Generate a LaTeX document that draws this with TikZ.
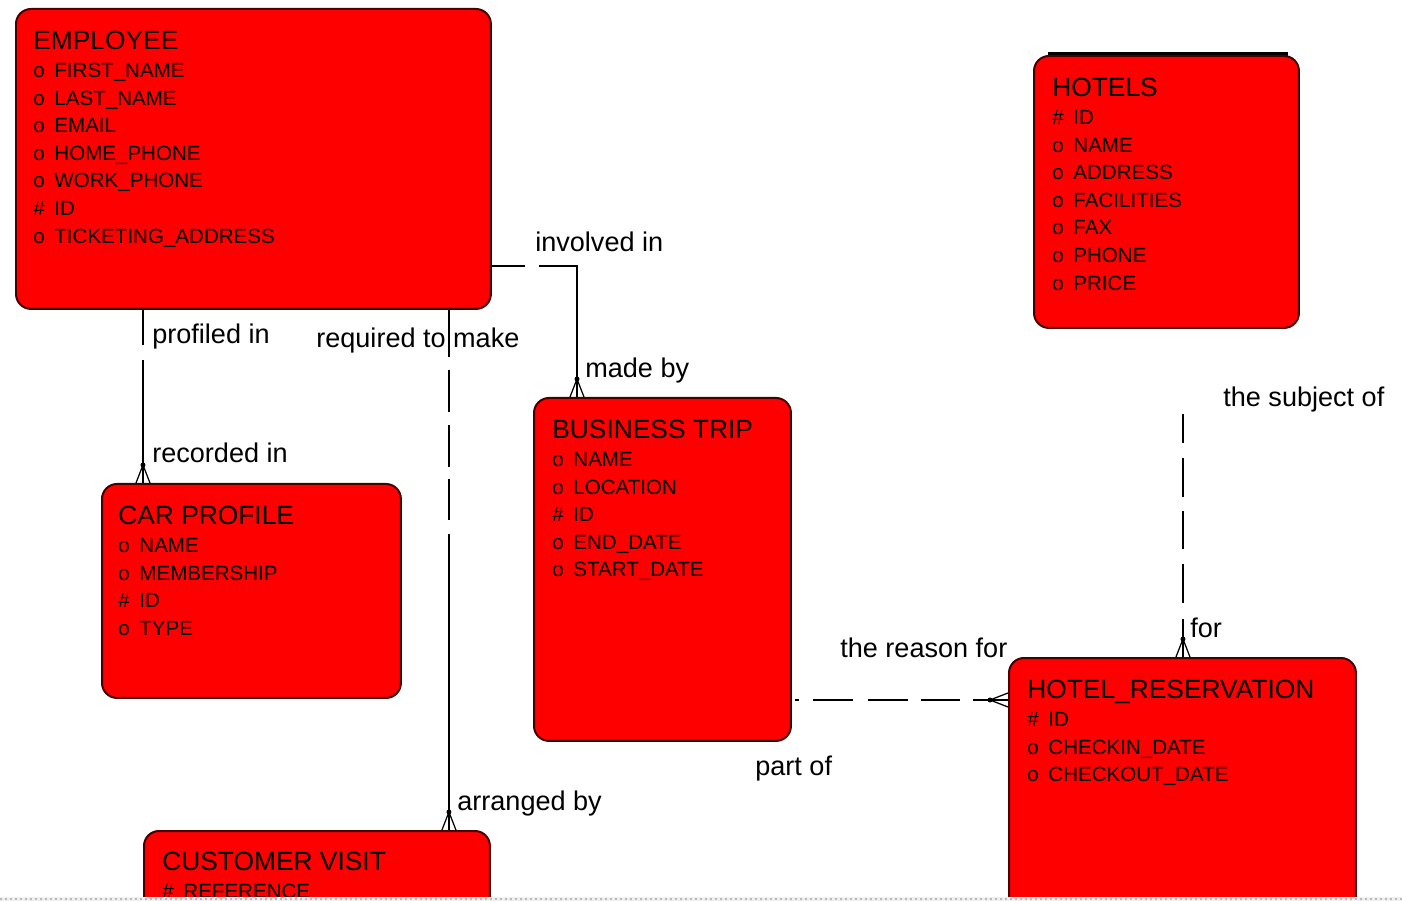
\documentclass[tikz,border=0pt]{standalone}
\usepackage{fontspec}
\setmainfont{Liberation Sans}
\definecolor{boxred}{RGB}{255, 0, 0}
\definecolor{boxedge}{RGB}{70, 0, 0}
\usetikzlibrary{calc}
\usetikzlibrary{positioning}
\newcommand{\attr}[2]{\makebox[12pt][l]{#1}#2}
\newcommand{\enttitle}[1]{{\fontsize{15}{15.7}\selectfont #1}}
\tikzset{
    rel/.style={line width=0.03cm},
    entity/.style = {
      draw=boxedge,
      line width=0.04cm,
      fill=boxred,
      rounded corners=0.3cm,
      rectangle,
      anchor=north west,
      inner sep=0
    },
    attrs/.style = {
      inner sep=0,
      anchor=base west,
      font=\fontsize{11.7}{15.7}\selectfont
    },
    rolename/.style = {
      inner sep=0,
      anchor=base west,
      font=\fontsize{15.4}{18}\selectfont
    },
    crowfoot/.pic = {
      \fill (0cm,0.36cm) circle (0.05cm);
      \draw[line width=0.025cm] (0cm,0.36cm) -- (-0.14cm,0cm)
        (0cm,0.36cm) -- (0cm,0cm) (0cm,0.36cm) -- (0.14cm,0cm);
    },
}
\begin{document}
\begin{tikzpicture}[x=0.02cm, y=-0.02cm]
      \useasboundingbox (0,0) rectangle (1402,901);
      \begin{scope}
      \clip (0,0) rectangle (1402,897);

      \node [entity, minimum width=9.5cm, minimum height=6cm] (employee) at (15,8) {};
      \node [attrs] (employee-text) at ([shift={(0.36cm,-0.84cm)}]employee.north west) {%
        \begin{tabular}[t]{@{}l@{}}
          \enttitle{EMPLOYEE}\\
          \attr{o}{FIRST\_NAME}\\
          \attr{o}{LAST\_NAME}\\
          \attr{o}{EMAIL}\\
          \attr{o}{HOME\_PHONE}\\
          \attr{o}{WORK\_PHONE}\\
          \attr{\#}{ID}\\
          \attr{o}{TICKETING\_ADDRESS}
        \end{tabular}};

      \draw[line width=0.07cm] (1048,54) -- (1288,54);
      \node [entity, minimum width=5.3cm, minimum height=5.44cm] (hotels) at (1033,55) {};
      \node [attrs] (hotels-text) at ([shift={(0.38cm,-0.84cm)}]hotels.north west) {%
        \begin{tabular}[t]{@{}l@{}}
          \enttitle{HOTELS}\\
          \attr{\#}{ID}\\
          \attr{o}{NAME}\\
          \attr{o}{ADDRESS}\\
          \attr{o}{FACILITIES}\\
          \attr{o}{FAX}\\
          \attr{o}{PHONE}\\
          \attr{o}{PRICE}
        \end{tabular}};

      \node [entity, minimum width=5.98cm, minimum height=4.28cm] (carprofile) at (101,483) {};
      \node [attrs] (carprofile-text) at ([shift={(0.34cm,-0.84cm)}]carprofile.north west) {%
        \begin{tabular}[t]{@{}l@{}}
          \enttitle{CAR PROFILE}\\
          \attr{o}{NAME}\\
          \attr{o}{MEMBERSHIP}\\
          \attr{\#}{ID}\\
          \attr{o}{TYPE}
        \end{tabular}};

      \node [entity, minimum width=5.14cm, minimum height=6.86cm] (businesstrip) at (533,397) {};
      \node [attrs] (businesstrip-text) at ([shift={(0.38cm,-0.84cm)}]businesstrip.north west) {%
        \begin{tabular}[t]{@{}l@{}}
          \enttitle{BUSINESS TRIP}\\
          \attr{o}{NAME}\\
          \attr{o}{LOCATION}\\
          \attr{\#}{ID}\\
          \attr{o}{END\_DATE}\\
          \attr{o}{START\_DATE}
        \end{tabular}};

      \node [entity, minimum width=6.94cm, minimum height=6cm] (hotelres) at (1008,657) {};
      \node [attrs] (hotelres-text) at ([shift={(0.38cm,-0.84cm)}]hotelres.north west) {%
        \begin{tabular}[t]{@{}l@{}}
          \enttitle{HOTEL\_RESERVATION}\\
          \attr{\#}{ID}\\
          \attr{o}{CHECKIN\_DATE}\\
          \attr{o}{CHECKOUT\_DATE}
        \end{tabular}};

      \node [entity, minimum width=6.92cm, minimum height=3cm] (customervisit) at (143,830) {};
      \node [attrs] (customervisit-text) at ([shift={(0.38cm,-0.82cm)}]customervisit.north west) {%
        \begin{tabular}[t]{@{}l@{}}
          \enttitle{CUSTOMER VISIT}\\
          \attr{\#}{REFERENCE}
        \end{tabular}};

      % relationships
      \coordinate (car-end) at ([xshift=0.84cm]carprofile.north west);
      \draw[rel, dash pattern=on 0.7cm off 0.3cm on 10cm off 0cm] (employee.south -| car-end) -- (car-end);
      \pic at (car-end) {crowfoot};

      \coordinate (trip-end) at ([xshift=0.88cm]businesstrip.north west);
      \coordinate (inv-start) at ([yshift=-2.14cm]employee.east);
      \draw[rel, dash pattern=on 0.66cm off 0.28cm on 10cm off 0cm] (inv-start) -| (trip-end);
      \pic at (trip-end) {crowfoot};

      \coordinate (visit-end) at ([xshift=6.12cm]customervisit.north west);
      \draw[rel, dash pattern=on 0.94cm off 0.26cm on 0.84cm off 0.26cm on 0.84cm off 0.24cm on 0.82cm off 0.28cm on 12cm off 0cm] (employee.south -| visit-end) -- (visit-end);
      \pic at (visit-end) {crowfoot};

      \coordinate (res-end) at ([xshift=3.5cm]hotelres.north west);
      \coordinate (subj-start) at ($(hotels.south -| res-end)+(0cm,-1.7cm)$);
      \draw[rel, dash pattern=on 0.58cm off 0.3cm on 0.78cm off 0.28cm on 0.76cm off 0.3cm on 0.78cm off 0.32cm on 5cm off 0cm] (subj-start) -- (res-end);
      \pic at (res-end) {crowfoot};

      \coordinate (rsn-end) at ([yshift=-0.86cm]hotelres.north west);
      \draw[rel, dash pattern=on 0pt off 0.06cm on 0.08cm off 0.28cm on 0.8cm off 0.3cm on 0.8cm off 0.26cm on 0.78cm off 0.26cm on 5cm off 0cm] (businesstrip.east |- rsn-end) -- (rsn-end);
      \pic[rotate=90] at (rsn-end) {crowfoot};

      % role names
      \node [rolename] (involved) at (535,252) {involved in};
      \node [rolename] (madeby) at (585,378) {made by};
      \node [rolename] (profiled) at (152,344) {profiled in};
      \node [rolename] (recorded) at (152,463) {recorded in};
      \node [rolename] (required) at (316,348) {required to make};
      \node [rolename] (arranged) at (457,810) {arranged by};
      \node [rolename] (subject) at (1223,407) {the subject of};
      \node [rolename] (for) at (1190,637) {for};
      \node [rolename] (reason) at (840,657) {the reason for};
      \node [rolename] (partof) at (755,775) {part of};
      \end{scope}

      \fill[gray!12] (0,897) rectangle (1402,901);
      \draw[gray!55, line width=0.04cm, dash pattern=on 0.04cm off 0.06cm] (0,899) -- (1402,899);
    \end{tikzpicture}
\end{document}
